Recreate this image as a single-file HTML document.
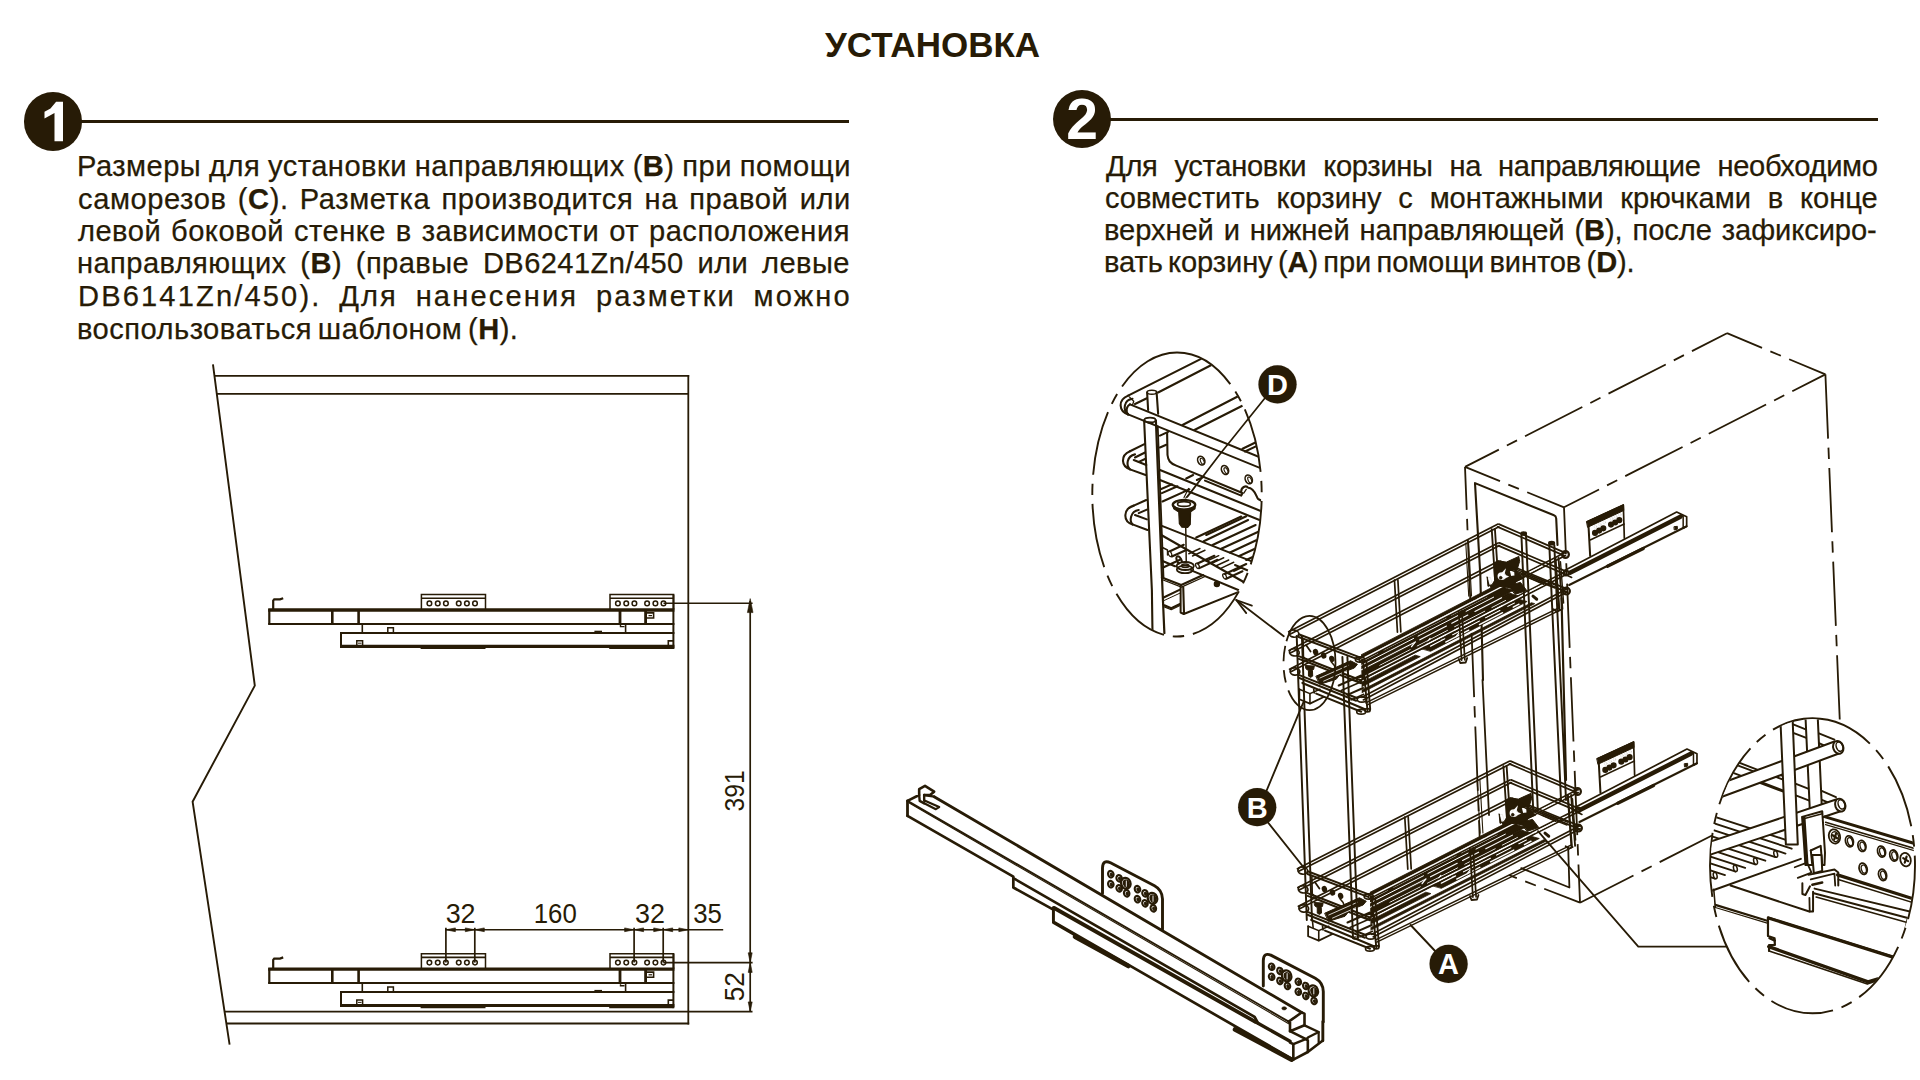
<!DOCTYPE html>
<html><head><meta charset="utf-8"><title>Установка</title>
<style>
html,body{margin:0;padding:0;background:#fff;}
body{width:1920px;height:1080px;position:relative;overflow:hidden;font-family:"Liberation Sans",sans-serif;color:#271b06;}
.title{position:absolute;left:825px;top:24.5px;font-size:35px;font-weight:bold;line-height:40px;white-space:nowrap;letter-spacing:0px;}
.ln{position:absolute;font-size:29.8px;line-height:34px;height:34px;white-space:nowrap;transform:scaleX(0.977);transform-origin:0 0;text-align:justify;text-align-last:justify;-webkit-text-stroke:0.25px #271b06;}
.ln b{font-weight:bold;}
.num{position:absolute;width:58.4px;height:58.4px;border-radius:50%;background:#271b06;color:#fff;font-weight:bold;font-size:57px;line-height:58.8px;text-align:center;}
.rule{position:absolute;height:2.6px;background:#271b06;}
svg{position:absolute;left:0;top:0;}
svg text{font-family:"Liberation Sans",sans-serif;fill:#271b06;}
</style></head><body>
<div class="title">УСТАНОВКА</div>
<div class="rule" style="left:80px;top:120px;width:768.5px"></div>
<div class="rule" style="left:1109px;top:118px;width:768.5px"></div>
<div class="num" style="left:23.5px;top:92.2px"><svg width="58.4" height="58.4" viewBox="0 0 58.4 58.4" style="position:absolute;left:0;top:0"><path d="M39.0,9.7 L39.0,49.3 L30.5,49.3 L30.5,21.0 L20.5,26.6 L20.5,19.7 L26.5,16.6 L32.1,9.7 Z" fill="#fff" stroke="none"/></svg></div>
<div class="num" style="left:1053px;top:89.8px">2</div>
<div class="ln" style="left:76.80px;top:149.27px;letter-spacing:0.479px;word-spacing:-0.958px;width:792.10px;">Размеры для установки направляющих (<b>B</b>) при помощи</div>
<div class="ln" style="left:77.80px;top:181.87px;letter-spacing:0.585px;word-spacing:0.0px;width:791.07px;">саморезов (<b>C</b>). Разметка производится на правой или</div>
<div class="ln" style="left:77.80px;top:214.27px;letter-spacing:0.479px;word-spacing:0.0px;width:790.05px;">левой боковой стенке в зависимости от расположения</div>
<div class="ln" style="left:76.80px;top:246.47px;letter-spacing:0.426px;word-spacing:0.0px;width:791.07px;">направляющих (<b>B</b>) (правые DB6241Zn/450 или левые</div>
<div class="ln" style="left:77.80px;top:278.97px;letter-spacing:2.182px;word-spacing:0.0px;width:792.10px;">DB6141Zn/450). Для нанесения разметки можно</div>
<div class="ln" style="left:76.80px;top:311.67px;letter-spacing:0.479px;word-spacing:-2.874px;width:442.17px;">воспользоваться шаблоном (<b>H</b>).</div>
<div class="ln" style="left:1106.00px;top:148.77px;letter-spacing:-0.319px;word-spacing:0.0px;width:789.85px;">Для установки корзины на направляющие необходимо</div>
<div class="ln" style="left:1105.00px;top:180.97px;letter-spacing:-0.053px;word-spacing:0.0px;width:790.87px;">совместить корзину с монтажными крючками в конце</div>
<div class="ln" style="left:1104.00px;top:213.27px;letter-spacing:-0.085px;word-spacing:0.0px;width:790.87px;">верхней и нижней направляющей (<b>B</b>), после зафиксиро-</div>
<div class="ln" style="left:1104.00px;top:245.27px;letter-spacing:-0.128px;word-spacing:-2.661px;width:518.32px;">вать корзину (<b>A</b>) при помощи винтов (<b>D</b>).</div>
<svg width="1920" height="1080" viewBox="0 0 1920 1080" fill="none" stroke="#271b06" stroke-width="1.8" stroke-linecap="butt" stroke-linejoin="miter">
<g id="leftfig">
<path d="M212.96,364.40 L254.80,685.60 L192.60,801.70 L229.60,1044.70" stroke-width="1.9"/>
<line x1="214.40" y1="375.90" x2="689.20" y2="375.90" stroke-width="1.9"/>
<line x1="216.80" y1="393.85" x2="688.30" y2="393.85" stroke-width="1.9"/>
<line x1="688.30" y1="375.00" x2="688.30" y2="1024.40" stroke-width="1.8"/>
<line x1="225.00" y1="1011.70" x2="752.50" y2="1011.70" stroke-width="1.8"/>
<line x1="226.80" y1="1023.50" x2="689.20" y2="1023.50" stroke-width="1.9"/>
<path d="M421.40,609.50 L421.40,594.60 L485.50,594.60 L485.50,609.50" stroke-width="1.5"/>
<line x1="421.40" y1="598.20" x2="485.50" y2="598.20" stroke-width="1.6"/>
<circle cx="429.40" cy="603.40" r="2.30" stroke-width="1.5"/>
<circle cx="437.75" cy="603.40" r="2.30" stroke-width="1.5"/>
<circle cx="445.90" cy="603.40" r="2.30" stroke-width="1.5"/>
<circle cx="458.75" cy="603.40" r="2.30" stroke-width="1.5"/>
<circle cx="466.90" cy="603.40" r="2.30" stroke-width="1.5"/>
<circle cx="475.00" cy="603.40" r="2.30" stroke-width="1.5"/>
<line x1="420.60" y1="648.20" x2="485.50" y2="648.20" stroke-width="1.6"/>
<path d="M610.00,609.50 L610.00,594.60 L673.60,594.60 L673.60,609.50" stroke-width="1.5"/>
<line x1="610.00" y1="598.20" x2="673.60" y2="598.20" stroke-width="1.6"/>
<circle cx="617.90" cy="603.40" r="2.30" stroke-width="1.5"/>
<circle cx="626.25" cy="603.40" r="2.30" stroke-width="1.5"/>
<circle cx="634.40" cy="603.40" r="2.30" stroke-width="1.5"/>
<circle cx="647.10" cy="603.40" r="2.30" stroke-width="1.5"/>
<circle cx="655.40" cy="603.40" r="2.30" stroke-width="1.5"/>
<circle cx="663.50" cy="603.40" r="2.30" stroke-width="1.5"/>
<line x1="609.20" y1="648.20" x2="673.60" y2="648.20" stroke-width="1.6"/>
<path d="M273.20,609.00 L273.20,600.60 L274.20,599.40 L280.00,599.40 L283.20,598.20" stroke-width="2.2"/>
<line x1="268.20" y1="610.00" x2="674.40" y2="610.00" stroke-width="3.3"/>
<line x1="268.20" y1="623.90" x2="674.40" y2="623.90" stroke-width="2.0"/>
<line x1="269.30" y1="609.00" x2="269.30" y2="624.50" stroke-width="2.2"/>
<line x1="332.30" y1="610.00" x2="332.30" y2="624.00" stroke-width="2.6"/>
<line x1="358.60" y1="610.00" x2="358.60" y2="624.00" stroke-width="2.6"/>
<line x1="620.00" y1="610.00" x2="620.00" y2="624.00" stroke-width="2.8"/>
<line x1="645.60" y1="610.00" x2="645.60" y2="624.00" stroke-width="2.8"/>
<path d="M646.00,612.90 L653.60,612.90 L653.60,618.00 L647.00,618.00" stroke-width="1.6"/>
<line x1="648.50" y1="615.60" x2="652.00" y2="615.60" stroke-width="1.2"/>
<line x1="673.40" y1="594.60" x2="673.40" y2="649.00" stroke-width="2.0"/>
<line x1="362.30" y1="624.00" x2="362.30" y2="633.00" stroke-width="1.6"/>
<line x1="625.60" y1="624.00" x2="625.60" y2="633.50" stroke-width="1.6"/>
<path d="M620.50,625.00 L620.50,626.60 L624.50,626.60" stroke-width="1.4"/>
<path d="M387.80,632.50 L387.80,627.80 L393.40,627.80 L393.40,632.50" stroke-width="1.5"/>
<path d="M356.80,646.00 L356.80,640.80 L362.60,640.80 L362.60,646.00" stroke-width="1.5"/>
<line x1="358.00" y1="643.20" x2="361.50" y2="643.20" stroke-width="1.0"/>
<line x1="594.40" y1="631.60" x2="602.00" y2="631.60" stroke-width="1.8"/>
<path d="M668.30,646.00 L668.30,640.90 L673.00,640.90" stroke-width="1.6"/>
<line x1="340.00" y1="632.90" x2="674.40" y2="632.90" stroke-width="2.0"/>
<line x1="340.00" y1="646.30" x2="674.40" y2="646.30" stroke-width="3.2"/>
<line x1="341.00" y1="632.00" x2="341.00" y2="647.50" stroke-width="2.0"/>
<path d="M421.40,968.70 L421.40,953.80 L485.50,953.80 L485.50,968.70" stroke-width="1.5"/>
<line x1="421.40" y1="957.40" x2="485.50" y2="957.40" stroke-width="1.6"/>
<circle cx="429.40" cy="962.60" r="2.30" stroke-width="1.5"/>
<circle cx="437.75" cy="962.60" r="2.30" stroke-width="1.5"/>
<circle cx="445.90" cy="962.60" r="2.30" stroke-width="1.5"/>
<circle cx="458.75" cy="962.60" r="2.30" stroke-width="1.5"/>
<circle cx="466.90" cy="962.60" r="2.30" stroke-width="1.5"/>
<circle cx="475.00" cy="962.60" r="2.30" stroke-width="1.5"/>
<line x1="420.60" y1="1007.40" x2="485.50" y2="1007.40" stroke-width="1.6"/>
<path d="M610.00,968.70 L610.00,953.80 L673.60,953.80 L673.60,968.70" stroke-width="1.5"/>
<line x1="610.00" y1="957.40" x2="673.60" y2="957.40" stroke-width="1.6"/>
<circle cx="617.90" cy="962.60" r="2.30" stroke-width="1.5"/>
<circle cx="626.25" cy="962.60" r="2.30" stroke-width="1.5"/>
<circle cx="634.40" cy="962.60" r="2.30" stroke-width="1.5"/>
<circle cx="647.10" cy="962.60" r="2.30" stroke-width="1.5"/>
<circle cx="655.40" cy="962.60" r="2.30" stroke-width="1.5"/>
<circle cx="663.50" cy="962.60" r="2.30" stroke-width="1.5"/>
<line x1="609.20" y1="1007.40" x2="673.60" y2="1007.40" stroke-width="1.6"/>
<path d="M273.20,968.20 L273.20,959.80 L274.20,958.60 L280.00,958.60 L283.20,957.40" stroke-width="2.2"/>
<line x1="268.20" y1="969.20" x2="674.40" y2="969.20" stroke-width="3.3"/>
<line x1="268.20" y1="983.10" x2="674.40" y2="983.10" stroke-width="2.0"/>
<line x1="269.30" y1="968.20" x2="269.30" y2="983.70" stroke-width="2.2"/>
<line x1="332.30" y1="969.20" x2="332.30" y2="983.20" stroke-width="2.6"/>
<line x1="358.60" y1="969.20" x2="358.60" y2="983.20" stroke-width="2.6"/>
<line x1="620.00" y1="969.20" x2="620.00" y2="983.20" stroke-width="2.8"/>
<line x1="645.60" y1="969.20" x2="645.60" y2="983.20" stroke-width="2.8"/>
<path d="M646.00,972.10 L653.60,972.10 L653.60,977.20 L647.00,977.20" stroke-width="1.6"/>
<line x1="648.50" y1="974.80" x2="652.00" y2="974.80" stroke-width="1.2"/>
<line x1="673.40" y1="953.80" x2="673.40" y2="1008.20" stroke-width="2.0"/>
<line x1="362.30" y1="983.20" x2="362.30" y2="992.20" stroke-width="1.6"/>
<line x1="625.60" y1="983.20" x2="625.60" y2="992.70" stroke-width="1.6"/>
<path d="M620.50,984.20 L620.50,985.80 L624.50,985.80" stroke-width="1.4"/>
<path d="M387.80,991.70 L387.80,987.00 L393.40,987.00 L393.40,991.70" stroke-width="1.5"/>
<path d="M356.80,1005.20 L356.80,1000.00 L362.60,1000.00 L362.60,1005.20" stroke-width="1.5"/>
<line x1="358.00" y1="1002.40" x2="361.50" y2="1002.40" stroke-width="1.0"/>
<line x1="594.40" y1="990.80" x2="602.00" y2="990.80" stroke-width="1.8"/>
<path d="M668.30,1005.20 L668.30,1000.10 L673.00,1000.10" stroke-width="1.6"/>
<line x1="340.00" y1="992.10" x2="674.40" y2="992.10" stroke-width="2.0"/>
<line x1="340.00" y1="1005.50" x2="674.40" y2="1005.50" stroke-width="3.2"/>
<line x1="341.00" y1="991.20" x2="341.00" y2="1006.70" stroke-width="2.0"/>
<line x1="445.50" y1="929.80" x2="723.20" y2="929.80" stroke-width="1.6"/>
<line x1="445.90" y1="927.80" x2="445.90" y2="962.60" stroke-width="1.7"/>
<line x1="474.80" y1="927.80" x2="474.80" y2="962.60" stroke-width="1.7"/>
<line x1="634.10" y1="927.80" x2="634.10" y2="962.60" stroke-width="1.7"/>
<line x1="663.20" y1="927.80" x2="663.20" y2="962.60" stroke-width="1.7"/>
<path d="M445.90,929.80 L455.40,927.90 L455.40,931.70 Z" stroke-width="0.6" fill="#271b06"/>
<path d="M474.80,929.80 L465.30,927.90 L465.30,931.70 Z" stroke-width="0.6" fill="#271b06"/>
<path d="M474.80,929.80 L484.30,927.90 L484.30,931.70 Z" stroke-width="0.6" fill="#271b06"/>
<path d="M634.10,929.80 L624.60,927.90 L624.60,931.70 Z" stroke-width="0.6" fill="#271b06"/>
<path d="M634.10,929.80 L643.60,927.90 L643.60,931.70 Z" stroke-width="0.6" fill="#271b06"/>
<path d="M663.20,929.80 L653.70,927.90 L653.70,931.70 Z" stroke-width="0.6" fill="#271b06"/>
<path d="M663.20,929.80 L672.70,927.90 L672.70,931.70 Z" stroke-width="0.6" fill="#271b06"/>
<path d="M688.30,929.80 L678.80,927.90 L678.80,931.70 Z" stroke-width="0.6" fill="#271b06"/>
<line x1="750.20" y1="601.00" x2="750.20" y2="1011.70" stroke-width="1.7"/>
<line x1="663.50" y1="603.30" x2="752.60" y2="603.30" stroke-width="1.6"/>
<line x1="663.50" y1="962.60" x2="752.60" y2="962.60" stroke-width="1.6"/>
<path d="M750.20,598.60 L747.40,612.60 L753.00,612.60 Z" stroke-width="0.6" fill="#271b06"/>
<path d="M750.20,962.60 L748.20,952.80 L752.20,952.80 Z" stroke-width="0.6" fill="#271b06"/>
<path d="M750.20,962.60 L748.20,972.40 L752.20,972.40 Z" stroke-width="0.6" fill="#271b06"/>
<path d="M750.20,1011.70 L748.20,1001.90 L752.20,1001.90 Z" stroke-width="0.6" fill="#271b06"/>
<text transform="translate(460.60 923.40) rotate(0) scale(0.99 1)" x="0" y="0" font-size="27.2" text-anchor="middle" stroke="none">32</text>
<text transform="translate(555.20 923.40) rotate(0) scale(0.95 1)" x="0" y="0" font-size="27.2" text-anchor="middle" stroke="none">160</text>
<text transform="translate(650.00 923.40) rotate(0) scale(0.99 1)" x="0" y="0" font-size="27.2" text-anchor="middle" stroke="none">32</text>
<text transform="translate(707.60 923.40) rotate(0) scale(0.95 1)" x="0" y="0" font-size="27.2" text-anchor="middle" stroke="none">35</text>
<text transform="translate(743.90 790.90) rotate(-90) scale(0.905 1)" x="0" y="0" font-size="27.2" text-anchor="middle" stroke="none">391</text>
<text transform="translate(743.90 986.80) rotate(-90) scale(0.96 1)" x="0" y="0" font-size="27.2" text-anchor="middle" stroke="none">52</text>
</g>
<g id="rightfig" stroke-width="2.1" stroke-linecap="round" stroke-linejoin="round">
<defs><clipPath id="clipD"><ellipse cx="1177" cy="494.5" rx="84.2" ry="141.5"/></clipPath></defs>
<path d="M1177.00,352.50 A84.70,142.00 0 1 1 1177.00,636.50 A84.70,142.00 0 1 1 1177.00,352.50" stroke-width="1.9" stroke-linecap="butt" stroke-dasharray="64.3 9 11.4 9 64.3 9 11.4 9 64.3 9 11.4 9 64.3 9 11.4 9 64.3 9 11.4 9 64.3 9 11.4 9 64.3 9 11.4 9 70 0"/>
<g clip-path="url(#clipD)">
<path d="M1128.12,395.62 L1205.00,356.88"/>
<path d="M1158.12,392.50 L1216.25,362.50"/>
<path d="M1135.00,404.00 L1146.88,398.25"/>
<path d="M1128.12,395.62 C1117.50,400.00 1118.75,411.25 1128.12,414.38"/>
<path d="M1132.50,398.75 C1123.75,400.00 1122.50,410.00 1128.12,414.38"/>
<path d="M1130.00,404.38 C1126.25,406.25 1125.62,411.88 1128.12,414.38"/>
<path d="M1129.38,396.88 L1133.75,401.25 L1132.50,405.00" stroke-width="1.3"/>
<path d="M1130.00,404.38 L1267.50,460.25"/>
<path d="M1128.12,414.38 L1267.50,471.00" stroke-width="2.0"/>
<ellipse cx="1151.88" cy="392.25" rx="4.80" ry="2.00" stroke-width="1.5"/>
<path d="M1147.12,392.50 L1148.12,410.00"/>
<path d="M1156.62,392.50 L1158.12,413.75"/>
<ellipse cx="1150.00" cy="420.00" rx="5.60" ry="2.40" stroke-width="1.6"/>
<path d="M1148.12,422.50 L1152.50,423.00" stroke-width="2.2"/>
<path d="M1144.12,420.25 L1151.88,590.00 L1152.50,633.12"/>
<path d="M1155.88,420.25 L1162.50,590.00 L1164.38,633.12" stroke-width="2.2"/>
<path d="M1157.75,426.25 L1163.50,577.50" stroke-width="1.8"/>
<path d="M1182.50,425.00 L1242.50,394.00"/>
<path d="M1194.38,430.00 L1248.75,402.50"/>
<path d="M1242.50,448.75 L1257.50,441.50"/>
<path d="M1245.00,451.50 L1257.50,445.62"/>
<path d="M1160.00,435.62 L1168.12,431.88"/>
<path d="M1160.00,447.50 L1166.25,444.75"/>
<path d="M1167.12,432.75 L1167.50,455.00 C1168.12,460.62 1170.00,463.12 1176.25,465.62 L1241.25,492.50"/>
<path d="M1241.25,492.50 C1240.62,486.88 1246.25,485.00 1248.12,487.75 C1255.00,487.75 1256.25,497.50 1258.12,499.00 L1263.75,501.88"/>
<path d="M1243.75,493.12 L1246.25,489.38" stroke-width="1.3"/>
<ellipse cx="1201.25" cy="460.62" rx="3.40" ry="4.60" stroke-width="1.6" transform="rotate(-25 1201.25 460.62)"/>
<ellipse cx="1202.25" cy="461.25" rx="1.60" ry="3.20" stroke-width="1.1" transform="rotate(-25 1202.25 461.25)"/>
<ellipse cx="1225.00" cy="470.00" rx="3.40" ry="4.60" stroke-width="1.6" transform="rotate(-25 1225.00 470.00)"/>
<ellipse cx="1226.00" cy="470.62" rx="1.60" ry="3.20" stroke-width="1.1" transform="rotate(-25 1226.00 470.62)"/>
<ellipse cx="1248.75" cy="479.38" rx="3.40" ry="4.60" stroke-width="1.6" transform="rotate(-25 1248.75 479.38)"/>
<ellipse cx="1249.75" cy="480.00" rx="1.60" ry="3.20" stroke-width="1.1" transform="rotate(-25 1249.75 480.00)"/>
<path d="M1130.00,451.25 C1120.00,455.62 1121.25,466.25 1130.00,469.38"/>
<path d="M1135.00,454.38 C1126.88,456.25 1125.62,465.00 1130.00,469.38"/>
<path d="M1130.00,451.25 L1144.38,444.12"/>
<path d="M1135.00,457.50 L1145.00,452.50"/>
<path d="M1138.75,461.88 L1145.00,459.00"/>
<path d="M1130.00,469.38 L1145.62,475.00"/>
<path d="M1133.75,460.00 L1146.25,465.00"/>
<path d="M1160.00,470.00 L1267.50,513.75"/>
<path d="M1160.00,480.00 L1267.50,523.12"/>
<path d="M1186.25,478.50 L1193.12,475.00"/>
<path d="M1196.88,480.00 L1203.75,476.88"/>
<path d="M1205.00,480.62 L1241.25,495.62 L1242.50,493.12"/>
<path d="M1161.25,489.00 L1171.88,484.38"/>
<path d="M1162.50,501.50 L1189.38,489.38"/>
<path d="M1161.88,493.12 L1177.50,486.25"/>
<path d="M1133.75,505.62 C1123.12,508.75 1122.50,521.25 1132.50,524.38"/>
<path d="M1138.75,510.00 C1130.00,511.25 1129.38,521.25 1132.50,524.38"/>
<path d="M1133.75,505.62 L1146.25,500.00"/>
<path d="M1138.75,513.12 L1146.88,509.62"/>
<path d="M1132.50,524.38 L1147.50,530.00"/>
<path d="M1135.00,515.00 L1146.88,519.38"/>
<path d="M1161.25,525.62 L1253.12,561.88"/>
<path d="M1161.25,535.00 L1245.00,582.75 L1249.62,571.25 L1235.00,565.00"/>
<path d="M1191.25,570.38 L1241.25,591.25 L1235.00,600.00"/>
<path d="M1196.25,537.50 L1241.25,516.50"/>
<path d="M1203.75,541.25 L1248.12,520.00"/>
<path d="M1212.50,545.00 L1255.62,525.00"/>
<path d="M1221.25,548.75 L1260.00,531.00"/>
<path d="M1230.00,552.50 L1260.00,538.50"/>
<path d="M1238.75,556.25 L1258.75,547.00"/>
<path d="M1246.25,560.00 L1257.50,554.75"/>
<path d="M1206.25,535.00 L1246.25,516.25"/>
<path d="M1253.12,561.88 L1261.25,530.00" stroke-width="1.4"/>
<path d="M1170.00,551.25 L1183.75,544.75"/>
<path d="M1171.88,556.50 L1186.25,550.00"/>
<ellipse cx="1169.94" cy="553.88" rx="1.60" ry="2.80" stroke-width="1.3" transform="rotate(-25 1169.94 553.88)"/>
<path d="M1197.50,563.50 L1214.38,555.75"/>
<path d="M1199.38,568.12 L1217.50,559.75"/>
<ellipse cx="1197.44" cy="565.81" rx="1.60" ry="2.80" stroke-width="1.3" transform="rotate(-25 1197.44 565.81)"/>
<path d="M1225.00,574.00 L1246.25,564.00"/>
<path d="M1226.25,578.75 L1242.50,571.25"/>
<ellipse cx="1224.62" cy="576.38" rx="1.60" ry="2.80" stroke-width="1.3" transform="rotate(-25 1224.62 576.38)"/>
<path d="M1188.75,553.75 L1200.00,548.50" stroke-width="1.4"/>
<path d="M1192.50,556.00 L1205.00,550.25" stroke-width="1.4"/>
<path d="M1206.25,561.25 L1218.75,555.62" stroke-width="1.4"/>
<path d="M1211.25,563.50 L1223.75,557.75" stroke-width="1.4"/>
<path d="M1216.25,565.75 L1228.75,560.00" stroke-width="1.4"/>
<path d="M1221.25,568.12 L1233.75,562.25" stroke-width="1.4"/>
<path d="M1233.75,571.25 L1241.25,567.75" stroke-width="1.4"/>
<path d="M1162.50,547.50 L1167.50,550.00 L1167.50,555.00" stroke-width="1.4"/>
<path d="M1163.12,567.50 L1180.00,559.75"/>
<path d="M1163.12,561.25 L1175.00,566.25"/>
<ellipse cx="1184.00" cy="504.75" rx="11.20" ry="4.90" stroke-width="2.4" fill="#fff"/>
<path d="M1173.12,505.62 L1173.75,508.75 L1178.75,511.88 L1179.38,523.75 L1181.88,527.25 L1187.50,527.50 L1190.25,524.38 L1190.62,511.88 L1195.00,508.75 L1195.25,505.62 L1190.00,509.38 L1178.75,509.38 Z" stroke-width="1.2" fill="#271b06"/>
<ellipse cx="1184.00" cy="504.00" rx="6.50" ry="2.40" stroke-width="1.6"/>
<path d="M1185.75,527.50 L1186.25,562.50" stroke-width="1.5"/>
<path d="M1221.25,452.50 L1187.25,496.88" stroke-width="1.7"/>
<path d="M1184.00,497.50 L1188.50,488.50" stroke-width="1.2"/>
<path d="M1185.75,498.12 L1191.25,491.25" stroke-width="1.2"/>
<ellipse cx="1185.00" cy="569.38" rx="8.20" ry="3.80" stroke-width="1.8"/>
<ellipse cx="1185.25" cy="566.00" rx="8.60" ry="4.00" stroke-width="1.8"/>
<ellipse cx="1185.25" cy="565.75" rx="3.80" ry="1.80" stroke-width="1.4"/>
<path d="M1178.75,563.75 C1172.50,555.00 1180.00,553.75 1181.88,561.25"/>
<path d="M1161.88,577.50 L1181.25,585.00 L1203.12,575.00"/>
<path d="M1161.88,579.50 L1181.50,587.12 L1205.00,576.50" stroke-width="1.3"/>
<path d="M1180.62,585.62 L1180.62,612.50 L1183.75,614.00 L1241.88,590.62" stroke-width="2.0"/>
<path d="M1183.25,587.25 L1184.00,613.50"/>
<path d="M1163.12,597.75 L1180.00,589.62"/>
<path d="M1164.38,605.25 L1171.25,608.25 L1180.00,604.00"/>
<path d="M1164.38,606.88 L1171.25,609.75 L1180.00,605.50" stroke-width="1.2"/>
<path d="M1162.50,601.25 L1180.00,593.12" stroke-width="1.0"/>
<ellipse cx="1216.88" cy="584.00" rx="2.60" ry="2.60" stroke-width="1.2" fill="#271b06"/>
</g>
<path d="M1264.38,398.75 L1221.25,452.50" stroke-width="1.7"/>
<circle cx="1277.50" cy="384.40" r="19.10" stroke-width="0.1" fill="#271b06"/>
<text x="1277.50" y="394.69" font-size="29" font-weight="bold" text-anchor="middle" stroke="none" style="fill:#fff">D</text>
<path d="M1283.75,636.25 L1236.25,600.00" stroke-width="1.8"/>
<path d="M1251.88,605.62 L1236.25,600.00 L1246.25,613.12" stroke-width="1.8"/>
<line x1="1465.00" y1="466.90" x2="1727.00" y2="333.20" stroke-width="1.8" stroke-dasharray="64.3 9 11.4 9" stroke-dashoffset="26.3" stroke-linecap="butt"/>
<line x1="1727.00" y1="333.20" x2="1825.40" y2="374.40" stroke-width="1.8" stroke-dasharray="64.3 9 11.4 9" stroke-dashoffset="26.3" stroke-linecap="butt"/>
<line x1="1465.00" y1="466.90" x2="1564.00" y2="507.30" stroke-width="1.8" stroke-dasharray="64.3 9 11.4 9" stroke-dashoffset="26.5" stroke-linecap="butt"/>
<line x1="1564.00" y1="507.30" x2="1825.40" y2="374.40" stroke-width="1.8" stroke-dasharray="64.3 9 11.4 9" stroke-dashoffset="25.0" stroke-linecap="butt"/>
<line x1="1825.40" y1="374.40" x2="1839.90" y2="723.20" stroke-width="1.8" stroke-dasharray="64.3 9 11.4 9" stroke-dashoffset="0" stroke-linecap="butt"/>
<line x1="1564.00" y1="507.30" x2="1580.00" y2="902.70" stroke-width="1.8" stroke-dasharray="64.3 9 11.4 9" stroke-dashoffset="17.3" stroke-linecap="butt"/>
<line x1="1465.00" y1="466.90" x2="1480.30" y2="853.00" stroke-width="1.8" stroke-dasharray="64.3 9 11.4 9" stroke-dashoffset="21.3" stroke-linecap="butt"/>
<line x1="1580.00" y1="902.70" x2="1508.75" y2="875.00" stroke-width="1.8" stroke-dasharray="64.3 9 11.4 9" stroke-dashoffset="25.9" stroke-linecap="butt"/>
<line x1="1580.00" y1="902.70" x2="1712.00" y2="835.50" stroke-width="1.8" stroke-dasharray="64.3 9 11.4 9" stroke-dashoffset="4.3" stroke-linecap="butt"/>
<path d="M1521.25,868.10 L1569.40,887.50 L1568.20,847.50" stroke-width="1.8"/>
<path d="M1483,680 L1480.3,575 L1475,483.1 L1554,515.3 Q1556,516 1556.2,518.5 L1557.5,545"/>
<path d="M1482.50,680.00 L1489.00,815.00" stroke-width="1.8"/>
<clipPath id="fcu"><path d="M1355.2,363.0 L1363.2,763.0 L1691.2,763.0 L1691.2,363.0 Z"/></clipPath>
<g clip-path="url(#fcu)">
<path d="M1291.66,690.60 L1495.95,585.30 L1513.71,590.26 L1309.42,695.56 Z" stroke-width="0.8" fill="#271b06"/>
<path d="M1414.18,641.56 L1508.47,592.96 L1511.37,593.77 L1417.08,642.37 Z" stroke-width="0.8" fill="#271b06"/>
<path d="M1311.96,696.27 L1511.01,593.67 L1522.96,597.01 L1323.91,699.61 Z" stroke-width="0.8" fill="#271b06"/>
<path d="M1327.18,700.52 L1415.18,655.16 L1420.25,656.58 L1332.25,701.94 Z" stroke-width="0.8" fill="#271b06"/>
<path d="M1422.39,648.85 L1518.77,599.17 L1527.11,601.50 L1430.73,651.18 Z" stroke-width="0.8" fill="#271b06"/>
<path d="M1336.60,703.15 L1531.46,602.71 L1534.72,603.63 L1339.86,704.07 Z" stroke-width="0.8" fill="#271b06"/>
<line x1="1337.92" y1="670.22" x2="1484.59" y2="594.62" stroke="#fff" stroke-width="1.0" stroke-dasharray="60 5 30 8 50 4"/>
<line x1="1342.27" y1="671.43" x2="1488.93" y2="595.83" stroke="#fff" stroke-width="1.0" stroke-dasharray="40 7 70 6"/>
<line x1="1346.98" y1="672.75" x2="1493.64" y2="597.15" stroke="#fff" stroke-width="1.0" stroke-dasharray="75 5 45 9"/>
<line x1="1419.82" y1="639.81" x2="1505.73" y2="595.53" stroke="#fff" stroke-width="1.1" stroke-dasharray="30 6 18 8"/>
<line x1="1379.89" y1="665.29" x2="1505.60" y2="600.49" stroke="#fff" stroke-width="0.9" stroke-dasharray="34 8"/>
<line x1="1426.14" y1="644.90" x2="1514.14" y2="599.54" stroke="#fff" stroke-width="1.5" stroke-dasharray="22 10"/>
<line x1="1430.49" y1="646.12" x2="1514.30" y2="602.92" stroke="#fff" stroke-width="1.2" stroke-dasharray="16 9 30 7"/>
<line x1="1445.68" y1="642.03" x2="1519.01" y2="604.23" stroke="#fff" stroke-width="1.4" stroke-dasharray="26 12"/>
<line x1="1415.27" y1="641.87" x2="1411.56" y2="646.66" stroke="#fff" stroke-width="1.3"/>
<line x1="1430.13" y1="638.52" x2="1426.42" y2="643.32" stroke="#fff" stroke-width="1.3"/>
<line x1="1445.00" y1="635.18" x2="1441.29" y2="639.98" stroke="#fff" stroke-width="1.3"/>
<line x1="1459.86" y1="631.84" x2="1456.15" y2="636.63" stroke="#fff" stroke-width="1.3"/>
</g>
<line x1="1289.97" y1="634.31" x2="1498.91" y2="526.81" stroke-width="1.7"/>
<line x1="1288.62" y1="631.69" x2="1497.56" y2="524.19" stroke-width="1.7"/>
<line x1="1290.37" y1="653.06" x2="1499.50" y2="545.56" stroke-width="1.7"/>
<line x1="1289.02" y1="650.44" x2="1498.15" y2="542.94" stroke-width="1.7"/>
<line x1="1290.86" y1="671.81" x2="1500.14" y2="563.71" stroke-width="1.7"/>
<line x1="1289.51" y1="669.19" x2="1498.79" y2="561.09" stroke-width="1.7"/>
<line x1="1359.64" y1="661.81" x2="1565.46" y2="555.56" stroke-width="1.7"/>
<line x1="1358.28" y1="659.19" x2="1564.11" y2="552.94" stroke-width="1.7"/>
<line x1="1360.87" y1="679.91" x2="1566.69" y2="574.31" stroke-width="1.7"/>
<line x1="1359.52" y1="677.29" x2="1565.35" y2="571.69" stroke-width="1.7"/>
<line x1="1363.35" y1="699.90" x2="1567.45" y2="591.80" stroke-width="1.7"/>
<line x1="1361.97" y1="697.30" x2="1566.07" y2="589.20" stroke-width="1.7"/>
<line x1="1366.93" y1="705.17" x2="1559.94" y2="610.17" stroke-width="1.5"/>
<line x1="1365.78" y1="702.83" x2="1558.79" y2="607.83" stroke-width="1.5"/>
<line x1="1363.08" y1="658.38" x2="1550.38" y2="561.69" stroke="#fff" stroke-width="1.25"/>
<line x1="1364.31" y1="676.49" x2="1551.61" y2="580.39" stroke="#fff" stroke-width="1.25"/>
<line x1="1497.65" y1="526.85" x2="1564.20" y2="555.60" stroke-width="1.7"/>
<line x1="1498.82" y1="524.15" x2="1565.37" y2="552.90" stroke-width="1.7"/>
<line x1="1498.24" y1="545.61" x2="1565.44" y2="574.36" stroke-width="1.7"/>
<line x1="1499.40" y1="542.89" x2="1566.60" y2="571.64" stroke-width="1.7"/>
<line x1="1498.90" y1="563.76" x2="1566.19" y2="591.86" stroke-width="1.7"/>
<line x1="1500.03" y1="561.04" x2="1567.33" y2="589.14" stroke-width="1.7"/>
<path d="M1298.70,637.00 L1359.95,660.12" stroke-width="1.9"/>
<path d="M1298.70,634.25 L1359.95,657.38" stroke-width="1.9"/>
<path d="M1298.70,656.12 L1304.33,658.38" stroke-width="1.9"/>
<path d="M1298.70,658.88 L1304.33,660.88" stroke-width="1.9"/>
<path d="M1303.70,658.00 L1361.20,680.50" stroke-width="2.0"/>
<path d="M1304.33,660.75 L1361.20,683.25" stroke-width="1.9"/>
<path d="M1298.70,674.88 L1357.45,698.25" stroke-width="1.9"/>
<path d="M1298.70,677.75 L1356.20,700.75" stroke-width="1.9"/>
<path d="M1302.45,683.00 L1364.95,709.25" stroke-width="2.2"/>
<path d="M1316.20,693.62 L1361.20,711.75" stroke-width="2.0"/>
<line x1="1491.71" y1="529.11" x2="1495.16" y2="581.11" stroke-width="1.85"/>
<line x1="1494.90" y1="528.89" x2="1498.35" y2="580.89" stroke-width="1.85"/>
<line x1="1555.30" y1="558.12" x2="1559.25" y2="609.12" stroke-width="1.85"/>
<line x1="1558.49" y1="557.88" x2="1562.44" y2="608.88" stroke-width="1.85"/>
<path d="M1363.08,661.75 L1367.45,710.25" stroke-width="1.9"/>
<path d="M1366.45,661.75 L1370.20,709.25" stroke-width="1.9"/>
<ellipse cx="1361.20" cy="711.75" rx="4.50" ry="2.40" stroke-width="1.6"/>
<ellipse cx="1367.45" cy="710.25" rx="2.60" ry="1.60" stroke-width="1.85"/>
<line x1="1394.48" y1="580.10" x2="1397.44" y2="632.10" stroke-width="1.7"/>
<line x1="1397.88" y1="579.90" x2="1400.84" y2="631.90" stroke-width="1.7"/>
<line x1="1465.78" y1="543.08" x2="1468.73" y2="596.08" stroke-width="1.1"/>
<line x1="1468.57" y1="542.92" x2="1471.53" y2="595.92" stroke-width="1.1"/>
<line x1="1458.67" y1="611.10" x2="1461.63" y2="660.10" stroke-width="1.7"/>
<line x1="1461.87" y1="610.90" x2="1464.83" y2="659.90" stroke-width="1.7"/>
<path d="M1458.79,659.00 L1460.27,663.00 L1465.69,662.50 L1467.17,658.00" stroke-width="1.8"/>
<ellipse cx="1293.95" cy="633.62" rx="4.90" ry="3.60" stroke-width="1.7" transform="rotate(8 1293.95 633.62)"/>
<ellipse cx="1294.33" cy="652.38" rx="4.90" ry="3.60" stroke-width="1.7" transform="rotate(8 1294.33 652.38)"/>
<ellipse cx="1294.95" cy="671.50" rx="4.90" ry="3.60" stroke-width="1.7" transform="rotate(8 1294.95 671.50)"/>
<ellipse cx="1359.95" cy="659.50" rx="4.60" ry="2.60" stroke-width="1.6"/>
<ellipse cx="1361.20" cy="679.50" rx="4.60" ry="2.60" stroke-width="1.6"/>
<ellipse cx="1361.83" cy="699.50" rx="4.60" ry="2.60" stroke-width="1.6"/>
<ellipse cx="1565.48" cy="554.50" rx="3.40" ry="3.40" stroke-width="2.2"/>
<ellipse cx="1566.48" cy="591.12" rx="3.40" ry="3.40" stroke-width="2.2"/>
<ellipse cx="1565.98" cy="573.00" rx="2.60" ry="2.60" stroke-width="1.6"/>
<path d="M1303.08,640.12 L1303.45,656.75 L1304.95,658.88" stroke-width="1.6"/>
<path d="M1331.20,661.75 L1334.33,665.50 L1336.20,671.12" stroke-width="1.5"/>
<path d="M1306.20,645.25 L1310.58,651.50" stroke-width="1.8"/>
<ellipse cx="1315.58" cy="652.00" rx="2.00" ry="2.50" stroke-width="1.4" fill="#271b06" transform="rotate(-15 1315.58 652.00)"/>
<ellipse cx="1323.70" cy="655.50" rx="2.00" ry="2.50" stroke-width="1.4" fill="#271b06" transform="rotate(-15 1323.70 655.50)"/>
<ellipse cx="1331.83" cy="658.88" rx="2.00" ry="2.50" stroke-width="1.4" fill="#271b06" transform="rotate(-15 1331.83 658.88)"/>
<path d="M1316.20,676.12 L1350.58,660.75 L1357.45,664.25 L1354.33,668.00 L1341.20,673.00 L1336.20,679.25 L1319.95,684.25 Z" stroke-width="1.0" fill="#271b06"/>
<line x1="1319.95" y1="678.00" x2="1348.70" y2="665.25" stroke="#fff" stroke-width="0.8"/>
<line x1="1323.70" y1="681.12" x2="1347.45" y2="670.50" stroke="#fff" stroke-width="0.8"/>
<path d="M1338.70,685.50 L1361.20,675.50" stroke-width="2.0"/>
<path d="M1341.20,690.50 L1361.20,681.75" stroke-width="1.6"/>
<path d="M1347.45,694.88 L1363.08,688.00" stroke-width="2.0"/>
<path d="M1351.20,699.88 L1363.70,694.25" stroke-width="1.6"/>
<path d="M1305.58,665.50 L1314.33,666.12 L1313.70,669.25 L1312.45,670.50 L1312.70,676.12 L1310.58,677.38 L1308.45,676.12 L1308.45,670.50 L1306.20,669.00 Z" stroke-width="1.0" fill="#271b06"/>
<path d="M1299.33,689.25 L1299.33,699.25 L1309.95,703.62 L1323.70,697.00" stroke-width="1.8"/>
<path d="M1299.33,689.25 L1309.95,693.62 L1309.95,703.62" stroke-width="1.6"/>
<path d="M1309.95,693.62 L1319.95,689.25" stroke-width="1.6"/>
<path d="M1303.70,684.25 L1304.33,690.50" stroke-width="1.6"/>
<path d="M1313.70,689.25 L1314.33,693.00" stroke-width="1.6"/>
<path d="M1487.11,577.12 L1487.98,586.38 L1492.11,584.62 L1494.61,580.50 L1493.86,563.00 L1497.98,560.88 L1506.36,562.12 L1518.86,556.38 L1519.61,561.38 L1516.36,572.12 L1523.86,578.00 L1516.36,581.38 L1512.11,588.00 L1499.61,586.38 L1491.36,588.00 Z" stroke-width="1.0" fill="#271b06"/>
<ellipse cx="1501.73" cy="576.12" rx="4.20" ry="3.90" stroke-width="0.1" fill="#fff"/>
<circle cx="1500.73" cy="577.75" r="1.70" stroke-width="0.1" fill="#271b06"/>
<path d="M1500.11,574.50 L1506.11,568.00 L1504.48,574.50 L1509.23,576.50 L1504.48,578.75 Z" stroke-width="0.1" fill="#fff"/>
<path d="M1509.86,571.12 L1514.23,570.50 L1514.48,575.50 L1511.11,576.12 Z" stroke-width="0.1" fill="#fff"/>
<path d="M1487.98,578.00 L1489.48,584.88 L1491.73,582.38 L1490.48,577.75 Z" stroke-width="0.1" fill="#fff"/>
<path d="M1507.98,585.50 L1520.48,582.38 L1526.73,590.50 L1515.48,594.25 Z" stroke-width="1.0" fill="#271b06"/>
<line x1="1499.29" y1="564.91" x2="1543.67" y2="584.28" stroke-width="1.4"/>
<line x1="1500.42" y1="562.34" x2="1544.79" y2="581.72" stroke-width="1.4"/>
<line x1="1529.96" y1="578.05" x2="1554.96" y2="588.05" stroke-width="1.4"/>
<line x1="1531.00" y1="575.45" x2="1556.00" y2="585.45" stroke-width="1.4"/>
<path d="M1555.48,558.00 L1559.23,609.25" stroke-width="1.5"/>
<path d="M1560.48,561.75 L1563.61,603.00" stroke-width="1.4"/>
<path d="M1553.61,609.25 L1556.73,611.75 L1560.48,609.88" stroke-width="1.8"/>
<path d="M1532.98,596.12 L1536.73,599.25" stroke-width="3.0"/>
<clipPath id="fcl"><path d="M1364.0,600.0 L1372.0,1000.0 L1700.0,1000.0 L1700.0,600.0 Z"/></clipPath>
<g clip-path="url(#fcl)">
<path d="M1300.50,927.60 L1507.69,822.30 L1525.69,827.26 L1318.51,932.56 Z" stroke-width="0.8" fill="#271b06"/>
<path d="M1424.76,878.56 L1520.38,829.96 L1523.32,830.77 L1427.70,879.37 Z" stroke-width="0.8" fill="#271b06"/>
<path d="M1321.08,933.27 L1522.95,830.67 L1535.08,834.01 L1333.21,936.61 Z" stroke-width="0.8" fill="#271b06"/>
<path d="M1336.52,937.52 L1425.77,892.16 L1430.91,893.58 L1341.66,938.94 Z" stroke-width="0.8" fill="#271b06"/>
<path d="M1433.08,885.85 L1530.83,836.17 L1539.29,838.50 L1441.54,888.18 Z" stroke-width="0.8" fill="#271b06"/>
<path d="M1346.07,940.15 L1543.69,839.71 L1547.00,840.63 L1349.38,941.07 Z" stroke-width="0.8" fill="#271b06"/>
<line x1="1347.41" y1="907.22" x2="1496.16" y2="831.62" stroke="#fff" stroke-width="1.0" stroke-dasharray="60 5 30 8 50 4"/>
<line x1="1351.82" y1="908.43" x2="1500.57" y2="832.83" stroke="#fff" stroke-width="1.0" stroke-dasharray="40 7 70 6"/>
<line x1="1356.60" y1="909.75" x2="1505.35" y2="834.15" stroke="#fff" stroke-width="1.0" stroke-dasharray="75 5 45 9"/>
<line x1="1430.48" y1="876.81" x2="1517.60" y2="832.53" stroke="#fff" stroke-width="1.1" stroke-dasharray="30 6 18 8"/>
<line x1="1389.97" y1="902.29" x2="1517.47" y2="837.49" stroke="#fff" stroke-width="0.9" stroke-dasharray="34 8"/>
<line x1="1436.88" y1="881.90" x2="1526.13" y2="836.54" stroke="#fff" stroke-width="1.5" stroke-dasharray="22 10"/>
<line x1="1441.30" y1="883.12" x2="1526.30" y2="839.92" stroke="#fff" stroke-width="1.2" stroke-dasharray="16 9 30 7"/>
<line x1="1456.70" y1="879.03" x2="1531.07" y2="841.23" stroke="#fff" stroke-width="1.4" stroke-dasharray="26 12"/>
<line x1="1425.86" y1="878.87" x2="1422.10" y2="883.66" stroke="#fff" stroke-width="1.3"/>
<line x1="1440.93" y1="875.52" x2="1437.17" y2="880.32" stroke="#fff" stroke-width="1.3"/>
<line x1="1456.01" y1="872.18" x2="1452.25" y2="876.98" stroke="#fff" stroke-width="1.3"/>
<line x1="1471.09" y1="868.84" x2="1467.32" y2="873.63" stroke="#fff" stroke-width="1.3"/>
</g>
<line x1="1298.77" y1="871.32" x2="1510.67" y2="763.82" stroke-width="1.7"/>
<line x1="1297.43" y1="868.68" x2="1509.33" y2="761.18" stroke-width="1.7"/>
<line x1="1299.17" y1="890.07" x2="1511.27" y2="782.57" stroke-width="1.7"/>
<line x1="1297.83" y1="887.43" x2="1509.93" y2="779.93" stroke-width="1.7"/>
<line x1="1299.67" y1="908.81" x2="1511.92" y2="800.71" stroke-width="1.7"/>
<line x1="1298.33" y1="906.19" x2="1510.58" y2="798.09" stroke-width="1.7"/>
<line x1="1369.42" y1="898.81" x2="1578.17" y2="792.56" stroke-width="1.7"/>
<line x1="1368.08" y1="896.19" x2="1576.83" y2="789.94" stroke-width="1.7"/>
<line x1="1370.67" y1="916.92" x2="1579.42" y2="811.32" stroke-width="1.7"/>
<line x1="1369.33" y1="914.28" x2="1578.08" y2="808.68" stroke-width="1.7"/>
<line x1="1373.18" y1="936.91" x2="1580.18" y2="828.81" stroke-width="1.7"/>
<line x1="1371.82" y1="934.29" x2="1578.82" y2="826.19" stroke-width="1.7"/>
<line x1="1376.82" y1="942.17" x2="1572.57" y2="847.17" stroke-width="1.5"/>
<line x1="1375.68" y1="939.83" x2="1571.43" y2="844.83" stroke-width="1.5"/>
<line x1="1372.92" y1="895.38" x2="1562.89" y2="798.69" stroke="#fff" stroke-width="1.25"/>
<line x1="1374.17" y1="913.49" x2="1564.14" y2="817.39" stroke="#fff" stroke-width="1.25"/>
<line x1="1509.42" y1="763.86" x2="1576.92" y2="792.61" stroke-width="1.7"/>
<line x1="1510.58" y1="761.14" x2="1578.08" y2="789.89" stroke-width="1.7"/>
<line x1="1510.03" y1="782.61" x2="1578.18" y2="811.36" stroke-width="1.7"/>
<line x1="1511.17" y1="779.89" x2="1579.32" y2="808.64" stroke-width="1.7"/>
<line x1="1510.69" y1="800.76" x2="1578.94" y2="828.86" stroke-width="1.7"/>
<line x1="1511.81" y1="798.04" x2="1580.06" y2="826.14" stroke-width="1.7"/>
<path d="M1307.50,874.00 L1368.75,897.12" stroke-width="1.9"/>
<path d="M1307.50,871.25 L1368.75,894.38" stroke-width="1.9"/>
<path d="M1307.50,893.12 L1313.12,895.38" stroke-width="1.9"/>
<path d="M1307.50,895.88 L1313.12,897.88" stroke-width="1.9"/>
<path d="M1312.50,895.00 L1370.00,917.50" stroke-width="2.0"/>
<path d="M1313.12,897.75 L1370.00,920.25" stroke-width="1.9"/>
<path d="M1307.50,911.88 L1366.25,935.25" stroke-width="1.9"/>
<path d="M1307.50,914.75 L1365.00,937.75" stroke-width="1.9"/>
<path d="M1311.25,920.00 L1373.75,946.25" stroke-width="2.2"/>
<path d="M1325.00,930.62 L1370.00,948.75" stroke-width="2.0"/>
<line x1="1503.40" y1="766.11" x2="1506.90" y2="818.11" stroke-width="1.85"/>
<line x1="1506.60" y1="765.89" x2="1510.10" y2="817.89" stroke-width="1.85"/>
<line x1="1567.90" y1="795.13" x2="1571.90" y2="846.13" stroke-width="1.85"/>
<line x1="1571.10" y1="794.87" x2="1575.10" y2="845.87" stroke-width="1.85"/>
<path d="M1371.88,898.75 L1376.25,947.25" stroke-width="1.9"/>
<path d="M1375.25,898.75 L1379.00,946.25" stroke-width="1.9"/>
<ellipse cx="1370.00" cy="948.75" rx="4.50" ry="2.40" stroke-width="1.6"/>
<ellipse cx="1376.25" cy="947.25" rx="2.60" ry="1.60" stroke-width="1.85"/>
<line x1="1404.80" y1="817.10" x2="1407.80" y2="869.10" stroke-width="1.7"/>
<line x1="1408.20" y1="816.90" x2="1411.20" y2="868.90" stroke-width="1.7"/>
<line x1="1477.10" y1="780.08" x2="1480.10" y2="833.08" stroke-width="1.1"/>
<line x1="1479.90" y1="779.92" x2="1482.90" y2="832.92" stroke-width="1.1"/>
<line x1="1469.90" y1="848.10" x2="1472.90" y2="897.10" stroke-width="1.7"/>
<line x1="1473.10" y1="847.90" x2="1476.10" y2="896.90" stroke-width="1.7"/>
<path d="M1470.00,896.00 L1471.50,900.00 L1477.00,899.50 L1478.50,895.00" stroke-width="1.8"/>
<ellipse cx="1302.75" cy="870.62" rx="4.90" ry="3.60" stroke-width="1.7" transform="rotate(8 1302.75 870.62)"/>
<ellipse cx="1303.12" cy="889.38" rx="4.90" ry="3.60" stroke-width="1.7" transform="rotate(8 1303.12 889.38)"/>
<ellipse cx="1303.75" cy="908.50" rx="4.90" ry="3.60" stroke-width="1.7" transform="rotate(8 1303.75 908.50)"/>
<ellipse cx="1368.75" cy="896.50" rx="4.60" ry="2.60" stroke-width="1.6"/>
<ellipse cx="1370.00" cy="916.50" rx="4.60" ry="2.60" stroke-width="1.6"/>
<ellipse cx="1370.62" cy="936.50" rx="4.60" ry="2.60" stroke-width="1.6"/>
<ellipse cx="1577.50" cy="791.50" rx="3.40" ry="3.40" stroke-width="2.2"/>
<ellipse cx="1578.50" cy="828.12" rx="3.40" ry="3.40" stroke-width="2.2"/>
<ellipse cx="1578.00" cy="810.00" rx="2.60" ry="2.60" stroke-width="1.6"/>
<path d="M1311.88,877.12 L1312.25,893.75 L1313.75,895.88" stroke-width="1.6"/>
<path d="M1340.00,898.75 L1343.12,902.50 L1345.00,908.12" stroke-width="1.5"/>
<path d="M1315.00,882.25 L1319.38,888.50" stroke-width="1.8"/>
<ellipse cx="1324.38" cy="889.00" rx="2.00" ry="2.50" stroke-width="1.4" fill="#271b06" transform="rotate(-15 1324.38 889.00)"/>
<ellipse cx="1332.50" cy="892.50" rx="2.00" ry="2.50" stroke-width="1.4" fill="#271b06" transform="rotate(-15 1332.50 892.50)"/>
<ellipse cx="1340.62" cy="895.88" rx="2.00" ry="2.50" stroke-width="1.4" fill="#271b06" transform="rotate(-15 1340.62 895.88)"/>
<path d="M1325.00,913.12 L1359.38,897.75 L1366.25,901.25 L1363.12,905.00 L1350.00,910.00 L1345.00,916.25 L1328.75,921.25 Z" stroke-width="1.0" fill="#271b06"/>
<line x1="1328.75" y1="915.00" x2="1357.50" y2="902.25" stroke="#fff" stroke-width="0.8"/>
<line x1="1332.50" y1="918.12" x2="1356.25" y2="907.50" stroke="#fff" stroke-width="0.8"/>
<path d="M1347.50,922.50 L1370.00,912.50" stroke-width="2.0"/>
<path d="M1350.00,927.50 L1370.00,918.75" stroke-width="1.6"/>
<path d="M1356.25,931.88 L1371.88,925.00" stroke-width="2.0"/>
<path d="M1360.00,936.88 L1372.50,931.25" stroke-width="1.6"/>
<path d="M1314.38,902.50 L1323.12,903.12 L1322.50,906.25 L1321.25,907.50 L1321.50,913.12 L1319.38,914.38 L1317.25,913.12 L1317.25,907.50 L1315.00,906.00 Z" stroke-width="1.0" fill="#271b06"/>
<path d="M1308.12,926.25 L1308.12,936.25 L1318.75,940.62 L1332.50,934.00" stroke-width="1.8"/>
<path d="M1308.12,926.25 L1318.75,930.62 L1318.75,940.62" stroke-width="1.6"/>
<path d="M1318.75,930.62 L1328.75,926.25" stroke-width="1.6"/>
<path d="M1312.50,921.25 L1313.12,927.50" stroke-width="1.6"/>
<path d="M1322.50,926.25 L1323.12,930.00" stroke-width="1.6"/>
<path d="M1499.12,814.12 L1500.00,823.38 L1504.12,821.62 L1506.62,817.50 L1505.88,800.00 L1510.00,797.88 L1518.38,799.12 L1530.88,793.38 L1531.62,798.38 L1528.38,809.12 L1535.88,815.00 L1528.38,818.38 L1524.12,825.00 L1511.62,823.38 L1503.38,825.00 Z" stroke-width="1.0" fill="#271b06"/>
<ellipse cx="1513.75" cy="813.12" rx="4.20" ry="3.90" stroke-width="0.1" fill="#fff"/>
<circle cx="1512.75" cy="814.75" r="1.70" stroke-width="0.1" fill="#271b06"/>
<path d="M1512.12,811.50 L1518.12,805.00 L1516.50,811.50 L1521.25,813.50 L1516.50,815.75 Z" stroke-width="0.1" fill="#fff"/>
<path d="M1521.88,808.12 L1526.25,807.50 L1526.50,812.50 L1523.12,813.12 Z" stroke-width="0.1" fill="#fff"/>
<path d="M1500.00,815.00 L1501.50,821.88 L1503.75,819.38 L1502.50,814.75 Z" stroke-width="0.1" fill="#fff"/>
<path d="M1520.00,822.50 L1532.50,819.38 L1538.75,827.50 L1527.50,831.25 Z" stroke-width="1.0" fill="#271b06"/>
<line x1="1511.31" y1="801.91" x2="1555.69" y2="821.28" stroke-width="1.4"/>
<line x1="1512.44" y1="799.34" x2="1556.81" y2="818.72" stroke-width="1.4"/>
<line x1="1541.98" y1="815.05" x2="1566.98" y2="825.05" stroke-width="1.4"/>
<line x1="1543.02" y1="812.45" x2="1568.02" y2="822.45" stroke-width="1.4"/>
<path d="M1567.50,795.00 L1571.25,846.25" stroke-width="1.5"/>
<path d="M1572.50,798.75 L1575.62,840.00" stroke-width="1.4"/>
<path d="M1565.62,846.25 L1568.75,848.75 L1572.50,846.88" stroke-width="1.8"/>
<path d="M1545.00,833.12 L1548.75,836.25" stroke-width="3.0"/>
<line x1="1296.70" y1="636.00" x2="1306.80" y2="920.00" stroke-width="1.95"/>
<line x1="1301.90" y1="636.00" x2="1312.00" y2="920.00" stroke-width="1.95"/>
<line x1="1342.40" y1="657.00" x2="1353.00" y2="938.00" stroke-width="1.95"/>
<line x1="1347.40" y1="657.00" x2="1358.00" y2="938.00" stroke-width="1.95"/>
<ellipse cx="1355.30" cy="938.00" rx="2.60" ry="1.20" stroke-width="1.1"/>
<line x1="1521.40" y1="535.00" x2="1533.20" y2="810.00" stroke-width="1.95"/>
<line x1="1526.00" y1="535.00" x2="1537.80" y2="810.00" stroke-width="1.95"/>
<ellipse cx="1523.70" cy="533.50" rx="2.60" ry="1.50" stroke-width="1.6" fill="#271b06"/>
<line x1="1549.30" y1="545.00" x2="1561.00" y2="800.00" stroke-width="1.95"/>
<line x1="1554.30" y1="545.00" x2="1566.00" y2="800.00" stroke-width="1.95"/>
<ellipse cx="1551.60" cy="543.20" rx="2.80" ry="1.60" stroke-width="1.6" fill="#271b06"/>
<line x1="1561.50" y1="598.00" x2="1566.00" y2="780.00" stroke-width="2.2"/>
<path d="M1587.08,521.67 L1623.33,505.00 L1624.33,538.33" stroke-width="1.7"/>
<path d="M1588.33,522.92 L1590.17,555.83" stroke-width="2.0"/>
<path d="M1586.83,521.50 L1623.50,504.67 L1623.75,510.50 L1587.92,527.17 Z" stroke-width="1.0" fill="#271b06"/>
<path d="M1590.17,540.00 L1624.17,524.00" stroke-width="1.5"/>
<ellipse cx="1595.00" cy="532.92" rx="2.30" ry="2.30" stroke-width="1.5" fill="#271b06"/>
<ellipse cx="1599.17" cy="530.58" rx="2.30" ry="2.30" stroke-width="1.5" fill="#271b06"/>
<ellipse cx="1603.33" cy="528.33" rx="2.30" ry="2.30" stroke-width="1.5" fill="#271b06"/>
<ellipse cx="1611.00" cy="524.58" rx="2.30" ry="2.30" stroke-width="1.5" fill="#271b06"/>
<ellipse cx="1615.17" cy="522.50" rx="2.30" ry="2.30" stroke-width="1.5" fill="#271b06"/>
<ellipse cx="1619.33" cy="520.17" rx="2.30" ry="2.30" stroke-width="1.5" fill="#271b06"/>
<ellipse cx="1595.42" cy="526.67" rx="1.30" ry="1.60" stroke-width="0.1" fill="#fff"/>
<ellipse cx="1599.83" cy="524.33" rx="1.30" ry="1.60" stroke-width="0.1" fill="#fff"/>
<ellipse cx="1604.17" cy="522.33" rx="1.30" ry="1.60" stroke-width="0.1" fill="#fff"/>
<ellipse cx="1611.67" cy="518.75" rx="1.30" ry="1.60" stroke-width="0.1" fill="#fff"/>
<ellipse cx="1615.67" cy="516.67" rx="1.30" ry="1.60" stroke-width="0.1" fill="#fff"/>
<ellipse cx="1619.83" cy="514.75" rx="1.30" ry="1.60" stroke-width="0.1" fill="#fff"/>
<path d="M1565.00,570.17 L1676.67,512.08 L1686.67,516.83 L1686.67,526.25 L1683.17,528.17" stroke-width="1.7"/>
<path d="M1570.00,572.67 L1680.42,516.83" stroke-width="4.5"/>
<path d="M1680.42,515.00 L1683.17,516.50 L1683.17,528.00" stroke-width="1.5"/>
<path d="M1569.17,585.00 L1686.67,526.25" stroke-width="2.0"/>
<path d="M1607.50,566.25 L1643.33,548.50" stroke-width="3.2"/>
<path d="M1565.00,574.17 L1571.67,577.50" stroke-width="1.6"/>
<path d="M1674.33,526.67 L1677.33,526.33 L1677.33,529.17 L1674.58,529.83 Z" stroke-width="1.0" fill="#271b06"/>
<path d="M1597.38,758.67 L1633.63,742.00 L1634.63,775.33" stroke-width="1.7"/>
<path d="M1598.63,759.92 L1600.47,792.83" stroke-width="2.0"/>
<path d="M1597.13,758.50 L1633.80,741.67 L1634.05,747.50 L1598.22,764.17 Z" stroke-width="1.0" fill="#271b06"/>
<path d="M1600.47,777.00 L1634.47,761.00" stroke-width="1.5"/>
<ellipse cx="1605.30" cy="769.92" rx="2.30" ry="2.30" stroke-width="1.5" fill="#271b06"/>
<ellipse cx="1609.47" cy="767.58" rx="2.30" ry="2.30" stroke-width="1.5" fill="#271b06"/>
<ellipse cx="1613.63" cy="765.33" rx="2.30" ry="2.30" stroke-width="1.5" fill="#271b06"/>
<ellipse cx="1621.30" cy="761.58" rx="2.30" ry="2.30" stroke-width="1.5" fill="#271b06"/>
<ellipse cx="1625.47" cy="759.50" rx="2.30" ry="2.30" stroke-width="1.5" fill="#271b06"/>
<ellipse cx="1629.63" cy="757.17" rx="2.30" ry="2.30" stroke-width="1.5" fill="#271b06"/>
<ellipse cx="1605.72" cy="763.67" rx="1.30" ry="1.60" stroke-width="0.1" fill="#fff"/>
<ellipse cx="1610.13" cy="761.33" rx="1.30" ry="1.60" stroke-width="0.1" fill="#fff"/>
<ellipse cx="1614.47" cy="759.33" rx="1.30" ry="1.60" stroke-width="0.1" fill="#fff"/>
<ellipse cx="1621.97" cy="755.75" rx="1.30" ry="1.60" stroke-width="0.1" fill="#fff"/>
<ellipse cx="1625.97" cy="753.67" rx="1.30" ry="1.60" stroke-width="0.1" fill="#fff"/>
<ellipse cx="1630.13" cy="751.75" rx="1.30" ry="1.60" stroke-width="0.1" fill="#fff"/>
<path d="M1575.30,807.17 L1686.97,749.08 L1696.97,753.83 L1696.97,763.25 L1693.47,765.17" stroke-width="1.7"/>
<path d="M1580.30,809.67 L1690.72,753.83" stroke-width="4.5"/>
<path d="M1690.72,752.00 L1693.47,753.50 L1693.47,765.00" stroke-width="1.5"/>
<path d="M1579.47,822.00 L1696.97,763.25" stroke-width="2.0"/>
<path d="M1617.80,803.25 L1653.63,785.50" stroke-width="3.2"/>
<path d="M1575.30,811.17 L1581.97,814.50" stroke-width="1.6"/>
<path d="M1684.63,763.67 L1687.63,763.33 L1687.63,766.17 L1684.88,766.83 Z" stroke-width="1.0" fill="#271b06"/>
<path d="M1812.50,718.30 A102.50,147.50 0 1 1 1812.50,1013.30 A102.50,147.50 0 1 1 1812.50,718.30" stroke-width="1.9" stroke-linecap="butt" stroke-dasharray="64.3 9 11.4 9"/>
<defs><clipPath id="clipR"><ellipse cx="1812.5" cy="865.8" rx="101.9" ry="146.9"/></clipPath></defs>
<g clip-path="url(#clipR)" stroke-width="2.0">
<path d="M1735.14,761.12 L1782.51,779.45" stroke-width="1.9"/>
<path d="M1730.56,771.81 L1783.27,791.67" stroke-width="1.9"/>
<path d="M1758.06,780.98 L1810.01,800.84" stroke-width="1.9"/>
<path d="M1776.39,773.34 L1785.56,777.16" stroke-width="1.9"/>
<path d="M1793.20,724.45 L1806.95,729.79" stroke-width="1.9"/>
<path d="M1793.20,732.85 L1806.95,738.20" stroke-width="1.9"/>
<path d="M1817.65,732.85 L1834.45,739.72" stroke-width="1.9"/>
<path d="M1818.41,742.78 L1826.81,746.60" stroke-width="1.9"/>
<path d="M1794.73,783.27 L1810.01,789.38" stroke-width="1.9"/>
<path d="M1819.94,790.15 L1835.98,797.02" stroke-width="1.9"/>
<path d="M1820.70,799.31 L1831.40,803.90" stroke-width="1.9"/>
<path d="M1738.20,765.70 L1755.00,771.81" stroke-width="1.9"/>
<path d="M1706.11,813.90 L1791.67,841.79" stroke-width="1.9"/>
<path d="M1706.11,820.78 L1791.67,848.67" stroke-width="1.9"/>
<path d="M1706.11,827.65 L1785.49,853.53" stroke-width="1.9"/>
<path d="M1706.11,834.53 L1775.40,857.12" stroke-width="1.9"/>
<ellipse cx="1775.71" cy="854.06" rx="1.80" ry="3.30" stroke-width="1.5" transform="rotate(-15 1775.71 854.06)"/>
<path d="M1706.11,841.40 L1765.32,860.70" stroke-width="1.9"/>
<path d="M1706.11,848.28 L1755.23,864.29" stroke-width="1.9"/>
<ellipse cx="1755.54" cy="861.24" rx="1.80" ry="3.30" stroke-width="1.5" transform="rotate(-15 1755.54 861.24)"/>
<path d="M1706.11,855.15 L1745.15,867.88" stroke-width="1.9"/>
<path d="M1706.11,862.03 L1735.06,871.47" stroke-width="1.9"/>
<ellipse cx="1735.37" cy="868.41" rx="1.80" ry="3.30" stroke-width="1.5" transform="rotate(-15 1735.37 868.41)"/>
<path d="M1706.11,868.90 L1724.98,875.06" stroke-width="1.9"/>
<path d="M1706.11,875.78 L1714.90,878.64" stroke-width="1.9"/>
<ellipse cx="1715.20" cy="875.59" rx="1.80" ry="3.30" stroke-width="1.5" transform="rotate(-15 1715.20 875.59)"/>
<path d="M1805.42,715.28 L1817.65,715.28 L1822.23,816.12 L1810.31,820.70 Z" stroke-width="2.0" fill="#fff"/>
<path d="M1715.28,785.56 L1834.45,741.56 L1838.27,753.78 L1715.28,799.31 Z" stroke-width="0.1" fill="#fff" stroke="#fff"/>
<path d="M1715.28,785.56 L1834.45,741.56"/>
<path d="M1715.28,799.31 L1838.27,753.78"/>
<ellipse cx="1838.27" cy="747.36" rx="5.00" ry="6.60" stroke-width="2.0" fill="#fff" transform="rotate(-20 1838.27 747.36)"/>
<ellipse cx="1839.50" cy="746.60" rx="3.20" ry="4.80" stroke-width="1.5" transform="rotate(-20 1839.50 746.60)"/>
<path d="M1709.17,842.09 L1836.75,799.31 L1840.57,811.23 L1709.17,855.08 Z" stroke-width="0.1" fill="#fff" stroke="#fff"/>
<path d="M1709.17,842.09 L1836.75,799.31"/>
<path d="M1709.17,855.08 L1840.57,811.23"/>
<ellipse cx="1840.26" cy="805.12" rx="5.00" ry="6.60" stroke-width="2.0" fill="#fff" transform="rotate(-20 1840.26 805.12)"/>
<ellipse cx="1841.48" cy="804.35" rx="3.20" ry="4.80" stroke-width="1.5" transform="rotate(-20 1841.48 804.35)"/>
<path d="M1780.21,715.28 L1792.44,715.28 L1797.78,844.39 L1785.87,844.39 Z" stroke-width="2.0" fill="#fff"/>
<line x1="1780.98" y1="715.28" x2="1816.88" y2="715.28" stroke="#fff" stroke-width="3"/>
<path d="M1802.06,816.88 L1822.23,811.23 L1824.98,852.79 L1824.52,865.01 L1805.42,865.01 L1803.59,837.51 Z" stroke-width="2.0" fill="#fff"/>
<path d="M1804.66,818.41 L1822.23,813.83" stroke-width="1.5"/>
<path d="M1803.90,817.65 L1806.95,864.25" stroke-width="3.2"/>
<path d="M1810.77,850.50 L1820.70,845.91 L1822.23,865.01" stroke-width="2.0"/>
<path d="M1810.77,850.50 L1812.30,865.01" stroke-width="2.0"/>
<path d="M1825.29,816.88 L1929.18,847.90" stroke-width="3.0"/>
<path d="M1825.59,822.23 L1929.18,852.79" stroke-width="1.5"/>
<path d="M1825.59,824.52 L1929.18,855.08" stroke-width="1.3"/>
<ellipse cx="1834.45" cy="836.44" rx="5.60" ry="7.20" stroke-width="1.8" transform="rotate(-15 1834.45 836.44)"/>
<ellipse cx="1835.06" cy="836.75" rx="3.60" ry="5.00" stroke-width="1.4" transform="rotate(-15 1835.06 836.75)"/>
<path d="M1832.62,835.22 L1837.20,838.27" stroke-width="2.2"/>
<path d="M1835.98,833.69 L1834.15,839.80" stroke-width="2.2"/>
<ellipse cx="1849.43" cy="841.33" rx="3.90" ry="5.60" stroke-width="1.8" transform="rotate(-15 1849.43 841.33)"/>
<ellipse cx="1850.04" cy="841.63" rx="2.40" ry="4.20" stroke-width="1.3" transform="rotate(-15 1850.04 841.63)"/>
<ellipse cx="1861.96" cy="845.91" rx="3.90" ry="5.60" stroke-width="1.8" transform="rotate(-15 1861.96 845.91)"/>
<ellipse cx="1862.57" cy="846.22" rx="2.40" ry="4.20" stroke-width="1.3" transform="rotate(-15 1862.57 846.22)"/>
<ellipse cx="1881.51" cy="851.57" rx="3.90" ry="5.60" stroke-width="1.8" transform="rotate(-15 1881.51 851.57)"/>
<ellipse cx="1882.12" cy="851.87" rx="2.40" ry="4.20" stroke-width="1.3" transform="rotate(-15 1882.12 851.87)"/>
<ellipse cx="1893.74" cy="855.54" rx="3.90" ry="5.60" stroke-width="1.8" transform="rotate(-15 1893.74 855.54)"/>
<ellipse cx="1894.35" cy="855.84" rx="2.40" ry="4.20" stroke-width="1.3" transform="rotate(-15 1894.35 855.84)"/>
<ellipse cx="1905.50" cy="859.66" rx="5.20" ry="6.80" stroke-width="1.8" transform="rotate(-15 1905.50 859.66)"/>
<path d="M1903.21,858.14 L1908.10,861.19" stroke-width="2.2"/>
<path d="M1906.57,856.61 L1904.74,862.72" stroke-width="2.2"/>
<ellipse cx="1863.18" cy="868.75" rx="3.90" ry="5.80" stroke-width="1.8" transform="rotate(-15 1863.18 868.75)"/>
<ellipse cx="1863.79" cy="869.06" rx="2.40" ry="4.20" stroke-width="1.3" transform="rotate(-15 1863.79 869.06)"/>
<ellipse cx="1882.58" cy="874.86" rx="3.90" ry="5.80" stroke-width="1.8" transform="rotate(-15 1882.58 874.86)"/>
<ellipse cx="1883.19" cy="875.17" rx="2.40" ry="4.20" stroke-width="1.3" transform="rotate(-15 1883.19 875.17)"/>
<path d="M1709.17,891.67 L1800.84,858.82" stroke-width="2.0"/>
<path d="M1794.73,867.22 L1806.95,862.64 L1811.54,872.57 L1797.78,877.92" stroke-width="1.8"/>
<path d="M1812.30,855.00 L1813.83,873.33 L1822.23,871.04 L1821.47,855.00 Z" stroke-width="2.0" fill="#fff"/>
<path d="M1808.48,874.86 L1834.45,869.51 L1838.27,872.57 L1838.27,885.56" stroke-width="2.0"/>
<path d="M1810.77,879.45 L1834.45,873.64 L1835.22,885.56" stroke-width="1.8"/>
<path d="M1730.56,885.56 L1809.24,911.53 L1813.06,911.53 L1813.06,891.67" stroke-width="2.0"/>
<path d="M1809.40,897.78 L1809.70,911.53" stroke-width="1.8"/>
<path d="M1802.37,883.27 L1802.37,893.96 L1805.42,895.03 L1810.01,886.32" stroke-width="2.0"/>
<path d="M1812.30,884.79 L1822.23,882.50" stroke-width="2.4"/>
<path d="M1713.75,889.38 L1715.28,906.95" stroke-width="1.6"/>
<path d="M1714.51,904.66 L1767.23,920.70" stroke-width="2.2"/>
<path d="M1714.51,907.25 L1767.23,923.14" stroke-width="1.2"/>
<path d="M1814.59,888.61 L1929.18,916.12" stroke-width="2.0"/>
<path d="M1813.83,893.20 L1907.79,917.95 L1905.50,928.34" stroke-width="2.0"/>
<path d="M1837.51,874.86 L1929.18,903.89" stroke-width="3.2"/>
<path d="M1838.27,879.45 L1929.18,907.71" stroke-width="1.5"/>
<path d="M1816.12,897.02 L1906.26,922.23" stroke-width="1.6"/>
<path d="M1898.62,958.59 L1767.99,917.64 L1767.99,935.98 L1774.56,938.27 L1774.87,944.84 L1769.06,945.15 L1769.06,950.95" stroke-width="2.2"/>
<path d="M1768.45,917.95 L1898.62,958.90" stroke-width="3.2"/>
<path d="M1768.75,946.67 L1868.07,981.81 L1877.23,979.06" stroke-width="3.4"/>
<path d="M1769.06,950.95 L1867.30,984.11 L1875.71,981.20" stroke-width="1.6"/>
<path d="M1769.52,938.27 L1774.87,940.56" stroke-width="2.4"/>
</g>
<path d="M1538.00,831.20 L1638.30,946.70 L1726.00,946.70" stroke-width="1.8"/>
<path d="M1410.60,925.00 L1437.00,953.00" stroke-width="1.9"/>
<circle cx="1448.60" cy="963.90" r="19.10" stroke-width="0.1" fill="#271b06"/>
<text x="1448.60" y="974.19" font-size="29" font-weight="bold" text-anchor="middle" stroke="none" style="fill:#fff">A</text>
<path d="M1266.00,792.00 L1303.50,702.00" stroke-width="1.9"/>
<path d="M1266.00,820.00 L1303.75,867.50" stroke-width="1.9"/>
<circle cx="1257.20" cy="807.20" r="19.10" stroke-width="0.1" fill="#271b06"/>
<text x="1257.20" y="817.50" font-size="29" font-weight="bold" text-anchor="middle" stroke="none" style="fill:#fff">B</text>
<path d="M1309.50,615.80 A26.00,47.20 0 1 1 1309.50,710.20 A26.00,47.20 0 1 1 1309.50,615.80" stroke-width="1.8" stroke-linecap="butt" stroke-dasharray="148 8 12.4 9 15.5 4.6 40" />
<g stroke-width="2.8">
<path d="M934.17,796.67 L1301.67,1012.50" stroke-width="2.9"/>
<path d="M1322.83,1040.83 L1322.83,1021.67" stroke-width="2.9"/>
<path d="M908.33,801.33 L1288.67,1021.67" stroke-width="1.9"/>
<path d="M909.67,803.33 L1288.67,1023.67" stroke-width="1.1"/>
<path d="M934.17,796.67 L924.17,795.00 L924.17,800.83" stroke-width="2.4"/>
<path d="M907.50,800.83 L919.17,795.00 L919.17,789.17 L925.00,785.83 L934.17,791.67 L930.00,795.00 L924.17,795.00" stroke-width="2.6"/>
<path d="M919.17,795.00 L919.67,800.83 L924.17,803.33" stroke-width="2.4"/>
<path d="M925.00,800.83 L939.17,807.00 L935.83,809.17 L924.17,803.33" stroke-width="2.2"/>
<path d="M907.50,800.83 L907.50,815.83" stroke-width="2.8"/>
<path d="M907.50,815.83 L1013.33,876.67 L1013.33,887.50 L1053.33,909.67 L1053.33,922.50 L1075.00,935.00" stroke-width="2.7"/>
<path d="M1014.17,878.67 L1254.67,1017.00 L1258.33,1023.67" stroke-width="2.6"/>
<path d="M1054.17,908.00 L1255.00,1021.67" stroke-width="3.8"/>
<path d="M1053.33,907.50 L1053.33,921.67 L1293.33,1059.67" stroke-width="2.7"/>
<path d="M1255.33,1021.67 L1290.00,1041.33" stroke-width="3.4"/>
<path d="M1075.00,936.67 L1128.33,966.00" stroke-width="4.6"/>
<path d="M1235.00,1029.50 L1291.67,1059.67" stroke-width="4.6"/>
<path d="M1288.67,1021.67 L1301.67,1012.50 L1304.50,1013.67 L1304.50,1025.33 L1290.00,1031.17 L1290.00,1022.00" stroke-width="2.6"/>
<path d="M1290.00,1031.17 L1305.00,1038.67 L1307.83,1040.33 L1307.83,1052.00 L1293.33,1059.67 L1293.33,1044.17 L1290.00,1042.50" stroke-width="2.6"/>
<path d="M1293.33,1044.17 L1307.50,1038.33" stroke-width="2.4"/>
<path d="M1304.50,1025.33 L1318.67,1032.00 L1307.83,1037.50" stroke-width="2.4"/>
<path d="M1307.83,1052.00 L1322.50,1040.83" stroke-width="2.6"/>
<path d="M1318.67,1032.00 L1318.67,1042.50" stroke-width="2.2"/>
<ellipse cx="1284.17" cy="1008.33" rx="2.40" ry="1.70" stroke-width="0.5" fill="#271b06"/>
<path d="M1102.50,893.50 L1102.50,868.00 Q1102.80,859.20 1110.50,862.80 L1154.50,885.70 Q1162.30,890.00 1162.50,899.00 L1162.50,929.50" stroke-width="2.9"/>
<ellipse cx="1110.83" cy="874.17" rx="2.70" ry="3.30" stroke-width="2.1" transform="rotate(-20 1110.83 874.17)"/>
<ellipse cx="1111.33" cy="874.50" rx="1.10" ry="1.60" stroke-width="1.0" fill="#271b06" transform="rotate(-20 1111.33 874.50)"/>
<ellipse cx="1119.17" cy="878.33" rx="2.70" ry="3.30" stroke-width="2.1" transform="rotate(-20 1119.17 878.33)"/>
<ellipse cx="1119.67" cy="878.67" rx="1.10" ry="1.60" stroke-width="1.0" fill="#271b06" transform="rotate(-20 1119.67 878.67)"/>
<ellipse cx="1110.83" cy="884.17" rx="2.70" ry="3.30" stroke-width="2.1" transform="rotate(-20 1110.83 884.17)"/>
<ellipse cx="1111.33" cy="884.50" rx="1.10" ry="1.60" stroke-width="1.0" fill="#271b06" transform="rotate(-20 1111.33 884.50)"/>
<ellipse cx="1119.17" cy="888.33" rx="2.70" ry="3.30" stroke-width="2.1" transform="rotate(-20 1119.17 888.33)"/>
<ellipse cx="1119.67" cy="888.67" rx="1.10" ry="1.60" stroke-width="1.0" fill="#271b06" transform="rotate(-20 1119.67 888.67)"/>
<ellipse cx="1126.67" cy="893.33" rx="2.70" ry="3.30" stroke-width="2.1" transform="rotate(-20 1126.67 893.33)"/>
<ellipse cx="1127.17" cy="893.67" rx="1.10" ry="1.60" stroke-width="1.0" fill="#271b06" transform="rotate(-20 1127.17 893.67)"/>
<ellipse cx="1137.50" cy="889.17" rx="2.70" ry="3.30" stroke-width="2.1" transform="rotate(-20 1137.50 889.17)"/>
<ellipse cx="1138.00" cy="889.50" rx="1.10" ry="1.60" stroke-width="1.0" fill="#271b06" transform="rotate(-20 1138.00 889.50)"/>
<ellipse cx="1145.00" cy="893.33" rx="2.70" ry="3.30" stroke-width="2.1" transform="rotate(-20 1145.00 893.33)"/>
<ellipse cx="1145.50" cy="893.67" rx="1.10" ry="1.60" stroke-width="1.0" fill="#271b06" transform="rotate(-20 1145.50 893.67)"/>
<ellipse cx="1137.50" cy="899.17" rx="2.70" ry="3.30" stroke-width="2.1" transform="rotate(-20 1137.50 899.17)"/>
<ellipse cx="1138.00" cy="899.50" rx="1.10" ry="1.60" stroke-width="1.0" fill="#271b06" transform="rotate(-20 1138.00 899.50)"/>
<ellipse cx="1145.00" cy="903.33" rx="2.70" ry="3.30" stroke-width="2.1" transform="rotate(-20 1145.00 903.33)"/>
<ellipse cx="1145.50" cy="903.67" rx="1.10" ry="1.60" stroke-width="1.0" fill="#271b06" transform="rotate(-20 1145.50 903.67)"/>
<ellipse cx="1153.33" cy="908.33" rx="2.70" ry="3.30" stroke-width="2.1" transform="rotate(-20 1153.33 908.33)"/>
<ellipse cx="1153.83" cy="908.67" rx="1.10" ry="1.60" stroke-width="1.0" fill="#271b06" transform="rotate(-20 1153.83 908.67)"/>
<ellipse cx="1125.83" cy="883.33" rx="4.60" ry="5.60" stroke-width="2.3" transform="rotate(-20 1125.83 883.33)"/>
<ellipse cx="1126.33" cy="883.67" rx="2.60" ry="3.60" stroke-width="1.6" fill="#271b06" transform="rotate(-20 1126.33 883.67)"/>
<line x1="1126.33" y1="881.00" x2="1126.33" y2="886.33" stroke="#fff" stroke-width="0.9"/>
<ellipse cx="1152.50" cy="898.33" rx="4.60" ry="5.60" stroke-width="2.3" transform="rotate(-20 1152.50 898.33)"/>
<ellipse cx="1153.00" cy="898.67" rx="2.60" ry="3.60" stroke-width="1.6" fill="#271b06" transform="rotate(-20 1153.00 898.67)"/>
<line x1="1153.00" y1="896.00" x2="1153.00" y2="901.33" stroke="#fff" stroke-width="0.9"/>
<path d="M1263.30,986.10 L1263.30,960.60 Q1263.60,951.80 1271.30,955.40 L1315.30,978.30 Q1323.10,982.60 1323.30,991.60 L1323.30,1022.10" stroke-width="2.9"/>
<ellipse cx="1271.63" cy="966.77" rx="2.70" ry="3.30" stroke-width="2.1" transform="rotate(-20 1271.63 966.77)"/>
<ellipse cx="1272.13" cy="967.10" rx="1.10" ry="1.60" stroke-width="1.0" fill="#271b06" transform="rotate(-20 1272.13 967.10)"/>
<ellipse cx="1279.97" cy="970.93" rx="2.70" ry="3.30" stroke-width="2.1" transform="rotate(-20 1279.97 970.93)"/>
<ellipse cx="1280.47" cy="971.27" rx="1.10" ry="1.60" stroke-width="1.0" fill="#271b06" transform="rotate(-20 1280.47 971.27)"/>
<ellipse cx="1271.63" cy="976.77" rx="2.70" ry="3.30" stroke-width="2.1" transform="rotate(-20 1271.63 976.77)"/>
<ellipse cx="1272.13" cy="977.10" rx="1.10" ry="1.60" stroke-width="1.0" fill="#271b06" transform="rotate(-20 1272.13 977.10)"/>
<ellipse cx="1279.97" cy="980.93" rx="2.70" ry="3.30" stroke-width="2.1" transform="rotate(-20 1279.97 980.93)"/>
<ellipse cx="1280.47" cy="981.27" rx="1.10" ry="1.60" stroke-width="1.0" fill="#271b06" transform="rotate(-20 1280.47 981.27)"/>
<ellipse cx="1287.47" cy="985.93" rx="2.70" ry="3.30" stroke-width="2.1" transform="rotate(-20 1287.47 985.93)"/>
<ellipse cx="1287.97" cy="986.27" rx="1.10" ry="1.60" stroke-width="1.0" fill="#271b06" transform="rotate(-20 1287.97 986.27)"/>
<ellipse cx="1298.30" cy="981.77" rx="2.70" ry="3.30" stroke-width="2.1" transform="rotate(-20 1298.30 981.77)"/>
<ellipse cx="1298.80" cy="982.10" rx="1.10" ry="1.60" stroke-width="1.0" fill="#271b06" transform="rotate(-20 1298.80 982.10)"/>
<ellipse cx="1305.80" cy="985.93" rx="2.70" ry="3.30" stroke-width="2.1" transform="rotate(-20 1305.80 985.93)"/>
<ellipse cx="1306.30" cy="986.27" rx="1.10" ry="1.60" stroke-width="1.0" fill="#271b06" transform="rotate(-20 1306.30 986.27)"/>
<ellipse cx="1298.30" cy="991.77" rx="2.70" ry="3.30" stroke-width="2.1" transform="rotate(-20 1298.30 991.77)"/>
<ellipse cx="1298.80" cy="992.10" rx="1.10" ry="1.60" stroke-width="1.0" fill="#271b06" transform="rotate(-20 1298.80 992.10)"/>
<ellipse cx="1305.80" cy="995.93" rx="2.70" ry="3.30" stroke-width="2.1" transform="rotate(-20 1305.80 995.93)"/>
<ellipse cx="1306.30" cy="996.27" rx="1.10" ry="1.60" stroke-width="1.0" fill="#271b06" transform="rotate(-20 1306.30 996.27)"/>
<ellipse cx="1314.13" cy="1000.93" rx="2.70" ry="3.30" stroke-width="2.1" transform="rotate(-20 1314.13 1000.93)"/>
<ellipse cx="1314.63" cy="1001.27" rx="1.10" ry="1.60" stroke-width="1.0" fill="#271b06" transform="rotate(-20 1314.63 1001.27)"/>
<ellipse cx="1286.63" cy="975.93" rx="4.60" ry="5.60" stroke-width="2.3" transform="rotate(-20 1286.63 975.93)"/>
<ellipse cx="1287.13" cy="976.27" rx="2.60" ry="3.60" stroke-width="1.6" fill="#271b06" transform="rotate(-20 1287.13 976.27)"/>
<line x1="1287.13" y1="973.60" x2="1287.13" y2="978.93" stroke="#fff" stroke-width="0.9"/>
<ellipse cx="1313.30" cy="990.93" rx="4.60" ry="5.60" stroke-width="2.3" transform="rotate(-20 1313.30 990.93)"/>
<ellipse cx="1313.80" cy="991.27" rx="2.60" ry="3.60" stroke-width="1.6" fill="#271b06" transform="rotate(-20 1313.80 991.27)"/>
<line x1="1313.80" y1="988.60" x2="1313.80" y2="993.93" stroke="#fff" stroke-width="0.9"/>
</g>
</g>
</svg>
</body></html>
